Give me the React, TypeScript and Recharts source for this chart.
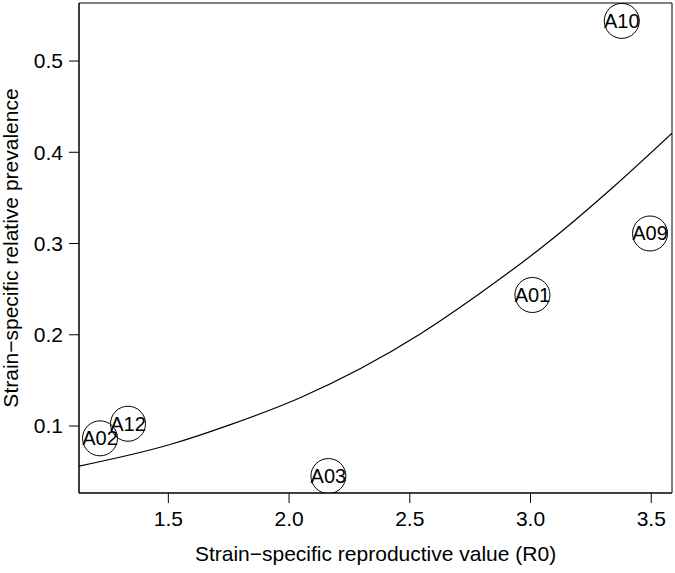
import React from "react";
import {
  ComposedChart,
  Scatter,
  Line,
  XAxis,
  YAxis,
  Label,
  ReferenceArea,
} from "recharts";

const strainNames = ["A02", "A12", "A03", "A01", "A09", "A10"];
const strainR0 = [1.217, 1.333, 2.163, 3.008, 3.495, 3.378];
const strainPrevalence = [0.0865, 0.1025, 0.0452, 0.2436, 0.311, 0.544];

const fitR0 = [1.13, 1.507, 1.751, 2.046, 2.543, 2.791, 3.081, 3.343, 3.586];
const fitPrevalence = [0.056, 0.0797, 0.101, 0.131, 0.2008, 0.2454, 0.303, 0.362, 0.421];

const xTicks = [1.5, 2.0, 2.5, 3.0, 3.5];
const yTicks = [0.1, 0.2, 0.3, 0.4, 0.5];

const points = strainNames.map((name, i) => ({
  name,
  r0: strainR0[i],
  prev: strainPrevalence[i],
}));
const fitLine = fitR0.map((r0, i) => ({ r0, prev: fitPrevalence[i] }));

const FONT = "'Liberation Sans', Arial, Helvetica, sans-serif";

const CircleLabel = (props: any) => {
  const { cx, cy, payload } = props;
  return (
    <g>
      <circle cx={cx} cy={cy} r={17.5} fill="none" stroke="#000" strokeWidth={1} />
      <text
        x={cx}
        y={cy}
        textAnchor="middle"
        dominantBaseline="central"
        fontFamily={FONT}
        fontSize={20}
        fill="#000"
      >
        {payload.name}
      </text>
    </g>
  );
};

const xDomain: [number, number] = [1.13, 3.586];
const yDomain: [number, number] = [0.0266, 0.5636];

export default function App() {
  return (
    <div style={{ position: "absolute", left: 0, top: 0, background: "#fff" }}>
      <ComposedChart
        width={675}
        height={573}
        margin={{ top: 3, right: 3, bottom: 0, left: 0 }}
        style={{ fontFamily: FONT }}
      >
        <XAxis
          dataKey="r0"
          type="number"
          domain={xDomain}
          ticks={xTicks}
          allowDataOverflow
          tickFormatter={(v: number) => v.toFixed(1)}
          height={80}
          tickSize={10}
          tickMargin={8}
          stroke="#000"
          tick={{ fill: "#000", fontSize: 21, fontFamily: FONT }}
        >
          <Label
            value="Strain−specific reproductive value (R0)"
            position="insideBottom"
            offset={12}
            style={{ fill: "#000", fontSize: 21, fontFamily: FONT }}
          />
        </XAxis>
        <YAxis
          dataKey="prev"
          type="number"
          domain={yDomain}
          ticks={yTicks}
          allowDataOverflow
          tickFormatter={(v: number) => v.toFixed(1)}
          width={79}
          tickSize={10}
          tickMargin={6}
          stroke="#000"
          tick={{ fill: "#000", fontSize: 21, fontFamily: FONT }}
        >
          <Label
            value="Strain−specific relative prevalence"
            angle={-90}
            position="insideLeft"
            offset={11}
            style={{ fill: "#000", fontSize: 21, fontFamily: FONT, textAnchor: "middle" }}
          />
        </YAxis>
        <ReferenceArea
          x1={xDomain[0]}
          x2={xDomain[1]}
          y1={yDomain[0]}
          y2={yDomain[1]}
          fill="none"
          fillOpacity={0}
          stroke="#000"
          strokeWidth={1}
          ifOverflow="visible"
        />
        <Line
          data={fitLine}
          dataKey="prev"
          type="monotone"
          stroke="#000"
          strokeWidth={1.2}
          dot={false}
          activeDot={false}
          isAnimationActive={false}
        />
        <Scatter
          data={points}
          dataKey="prev"
          shape={CircleLabel}
          isAnimationActive={false}
        />
      </ComposedChart>
    </div>
  );
}
